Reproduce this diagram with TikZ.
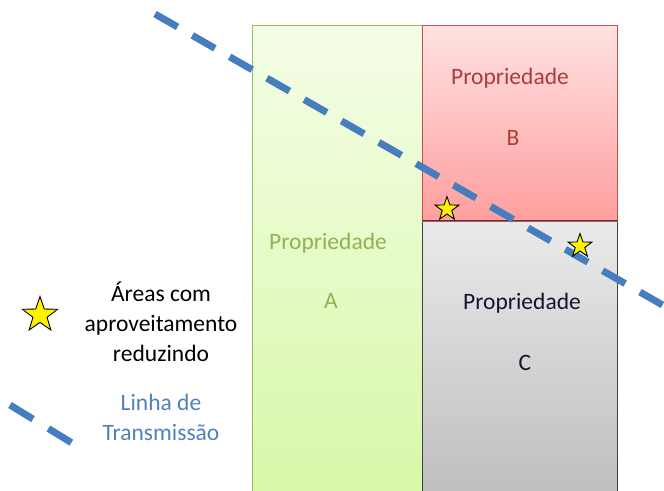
\documentclass[tikz,border=0pt]{standalone}
\usepackage{fontspec}
\setmainfont{Carlito}
\usetikzlibrary{shapes.geometric}
\definecolor{greenbd}{RGB}{155,187,89}
\definecolor{greentxt}{RGB}{140,180,80}
\definecolor{redbd}{RGB}{192,80,77}
\definecolor{redtxt}{RGB}{170,60,60}
\definecolor{blueline}{RGB}{70,125,190}
\definecolor{bluetxt}{RGB}{79,129,189}
\definecolor{navytxt}{RGB}{20,20,50}
\tikzset{
  prop/.style={draw, line width=1.3pt, minimum width=#1, inner sep=0pt, anchor=north west},
  lbl/.style={font=\fontsize{23.5}{30}\selectfont, align=center, inner sep=0pt},
  starmark/.style={star, star points=5, star point ratio=2.5, fill=yellow, draw=black, line width=0.9pt, inner sep=0pt, minimum size=#1},
  tline/.style={blueline, line width=7pt, dash pattern=on 26pt off 17pt},
}
\begin{document}
\begin{tikzpicture}[x=1pt,y=-1pt]
\useasboundingbox (0,0) rectangle (664,490);
% property A
\node[prop=170pt, minimum height=470pt, draw=greenbd, top color={rgb,255:red,244;green,253;blue,230}, bottom color={rgb,255:red,216;green,248;blue,168}] (A) at (252,25) {};
% property B
\node[prop=195pt, minimum height=195pt, draw=redbd, top color={rgb,255:red,255;green,226;blue,226}, bottom color={rgb,255:red,255;green,158;blue,158}] (B) at (422,25) {};
% property C
\node[prop=195pt, minimum height=275pt, draw={rgb,255:red,64;green,64;blue,64}, top color={rgb,255:red,234;green,234;blue,234}, bottom color={rgb,255:red,190;green,190;blue,190}] (C) at (422,220) {};
\draw[redbd, line width=1.3pt] (B.south west) -- (B.south east);
% labels
\node[lbl, text=greentxt] (Ap) at (328,243) {Propriedade};
\node[lbl, text=greentxt] (Al) at (331,301) {A};
\node[lbl, text=redtxt] (Bp) at (510,78) {Propriedade};
\node[lbl, text=redtxt] (Bl) at (513,138) {B};
\node[lbl, text=navytxt] (Cp) at (522,303) {Propriedade};
\node[lbl, text=navytxt] (Cl) at (525,363) {C};
% transmission line
\coordinate (t1) at (155,14);
\coordinate (t2) at (680,315);
\draw[tline] (t1) -- (t2);
% stars
\node[starmark=25pt] (s1) at (447,209) {};
\node[starmark=25pt] (s2) at (580,246) {};
% legend
\node[starmark=37pt] (ls) at (40,315) {};
\node[lbl, text=black] (lt) at (161,322) {Áreas com\\aproveitamento\\reduzindo};
\coordinate (l1) at (10,405);
\coordinate (l2) at (72,443);
\draw[blueline, line width=7pt, dash pattern=on 27pt off 18pt] (l1) -- (l2);
\node[lbl, text=bluetxt] (ll) at (161,417) {Linha de\\Transmissão};
\end{tikzpicture}
\end{document}
